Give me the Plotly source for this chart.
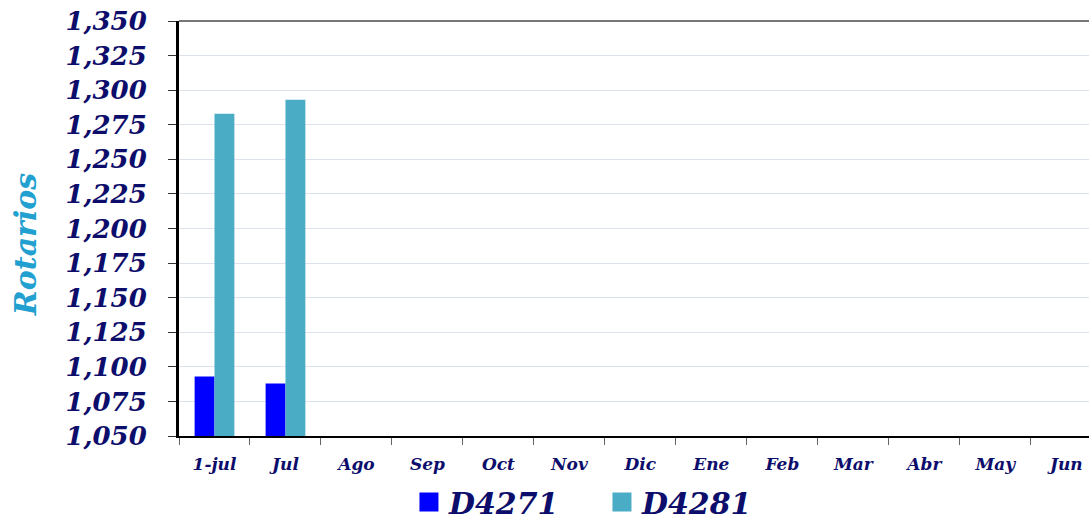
import plotly.graph_objects as go

categories = ["1-jul", "Jul", "Ago", "Sep", "Oct", "Nov", "Dic", "Ene", "Feb", "Mar", "Abr", "May", "Jun"]
d4271 = [1093, 1088, None, None, None, None, None, None, None, None, None, None, None]
d4281 = [1283, 1293, None, None, None, None, None, None, None, None, None, None, None]
series_names = ["D4271", "D4281"]
series_colors = ["#0000FF", "#4BACC6"]
y_ticks = list(range(1050, 1351, 25))

navy = "#0D0D6B"
font_fam = "DejaVu Serif"

fig = go.Figure()
for name, vals, col in zip(series_names, [d4271, d4281], series_colors):
    fig.add_trace(go.Bar(x=categories, y=vals, name=name, showlegend=False,
                         marker=dict(color=col, line=dict(width=0))))
# legend entries with larger square symbols
for name, col in zip(series_names, series_colors):
    fig.add_trace(go.Scatter(x=[None], y=[None], mode="markers", name=name,
                             marker=dict(symbol="square", size=16, color=col,
                                         line=dict(width=3, color=col))))

fig.update_layout(
    width=1089, height=525,
    margin=dict(l=179, r=0, t=21, b=89, autoexpand=False),
    paper_bgcolor="white", plot_bgcolor="white",
    barmode="group", bargap=0.44, bargroupgap=0,
    font=dict(family=font_fam, color=navy),
    legend=dict(orientation="h", x=0.2527, xanchor="left", y=-0.159, yanchor="middle",
                font=dict(size=30, color=navy, family=font_fam, style="italic", weight="bold"),
                itemwidth=30, entrywidth=148, entrywidthmode="pixels", tracegroupgap=0),
    xaxis=dict(range=[-0.5, 12.32], showgrid=False, showline=True, linecolor="black", linewidth=2,
               ticks="outside", tickson="boundaries", ticklen=7, tickcolor="#666",
               ticklabelstandoff=12,
               tickfont=dict(size=17, color=navy, family=font_fam, style="italic", weight="bold")),
    yaxis=dict(range=[1050, 1350], tickvals=y_ticks, tickformat=",d",
               showgrid=True, gridcolor="#DDE3EC", gridwidth=1,
               showline=True, linecolor="black", linewidth=3,
               ticks="outside", ticklen=8, tickcolor="#333",
               ticklabelstandoff=16,
               tickfont=dict(size=26, color=navy, family=font_fam, style="italic", weight="bold")),
    shapes=[dict(type="line", xref="paper", yref="paper", x0=0, x1=1, y0=1, y1=1,
                 line=dict(color="#777", width=2))],
    annotations=[dict(text="Rotarios", xref="paper", yref="paper", x=-0.1692, y=0.46,
                      xanchor="center", yanchor="middle", textangle=-90, showarrow=False,
                      font=dict(size=30, color="#22A0D0", family=font_fam, style="italic", weight="bold"))],
)

fig.write_html("out.html", config={"displayModeBar": False},
               post_script="document.body.style.margin='0px';")
